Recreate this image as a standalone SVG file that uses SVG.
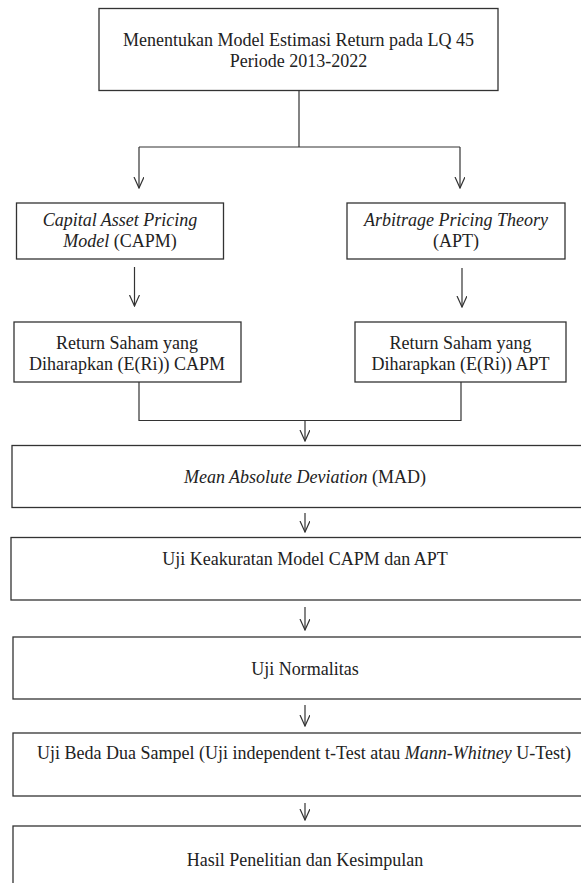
<svg xmlns="http://www.w3.org/2000/svg" width="581" height="883" viewBox="0 0 581 883">
<style>
.box{fill:#fff;stroke:#333;stroke-width:1.3}
.t{font-family:'Liberation Serif','Times New Roman',serif;font-size:18px;fill:#222;text-anchor:middle}
.i{font-style:italic}
.c{fill:none;stroke:#333;stroke-width:1.2}
</style>
<defs>
<marker id="ah" viewBox="0 0 12 12" refX="11" refY="5" markerWidth="12" markerHeight="12" markerUnits="userSpaceOnUse" orient="auto">
<path d="M0,0 L11,5 L0,10" fill="none" stroke="#333" stroke-width="1.2"/>
</marker>
</defs>
<rect width="581" height="883" fill="#fff"/>
<g id="connectors">
<path class="c" d="M299,90.5 V147 M139,147 H460"/>
<path class="c" d="M139,147 V188" marker-end="url(#ah)"/>
<path class="c" d="M460,147 V188" marker-end="url(#ah)"/>
<path class="c" d="M134.5,267 V306" marker-end="url(#ah)"/>
<path class="c" d="M462,268 V307" marker-end="url(#ah)"/>
<path class="c" d="M139,382 V420.5 H461 V382"/>
<path class="c" d="M305,420.5 V441" marker-end="url(#ah)"/>
<path class="c" d="M305,513 V532" marker-end="url(#ah)"/>
<path class="c" d="M305,607 V630" marker-end="url(#ah)"/>
<path class="c" d="M305,705 V726" marker-end="url(#ah)"/>
<path class="c" d="M305,803 V820" marker-end="url(#ah)"/>
</g>
<g id="n-start">
<rect class="box" x="99" y="8.5" width="399" height="82"/>
<text class="t" x="298.5" y="46">Menentukan Model Estimasi Return pada LQ 45</text>
<text class="t" x="298.5" y="67">Periode 2013-2022</text>
</g>
<g id="n-capm">
<rect class="box" x="16.5" y="203" width="207" height="56"/>
<text class="t" x="120" y="226"><tspan class="i">Capital Asset Pricing</tspan></text>
<text class="t" x="120" y="247"><tspan class="i">Model</tspan> (CAPM)</text>
</g>
<g id="n-apt">
<rect class="box" x="347" y="203" width="218" height="56"/>
<text class="t" x="456" y="226"><tspan class="i">Arbitrage Pricing Theory</tspan></text>
<text class="t" x="456" y="247">(APT)</text>
</g>
<g id="n-ret-capm">
<rect class="box" x="14" y="322" width="227" height="60"/>
<text class="t" x="127" y="349">Return Saham yang</text>
<text class="t" x="127" y="370">Diharapkan (E(Ri)) CAPM</text>
</g>
<g id="n-ret-apt">
<rect class="box" x="355" y="322" width="211" height="60"/>
<text class="t" x="460.5" y="349">Return Saham yang</text>
<text class="t" x="460.5" y="370">Diharapkan (E(Ri)) APT</text>
</g>
<g id="n-mad">
<rect class="box" x="12" y="445.5" width="590" height="62"/>
<text class="t" x="305" y="483"><tspan class="i">Mean Absolute Deviation</tspan> (MAD)</text>
</g>
<g id="n-akurasi">
<rect class="box" x="11" y="537.5" width="590" height="62.5"/>
<text class="t" x="305" y="565">Uji Keakuratan Model CAPM dan APT</text>
</g>
<g id="n-normal">
<rect class="box" x="13" y="637" width="590" height="62"/>
<text class="t" x="305" y="675">Uji Normalitas</text>
</g>
<g id="n-beda">
<rect class="box" x="13" y="733" width="590" height="63"/>
<text class="t" x="304" y="759">Uji Beda Dua Sampel (Uji independent t-Test atau <tspan class="i">Mann-Whitney</tspan> U-Test)</text>
</g>
<g id="n-hasil">
<rect class="box" x="13" y="826" width="590" height="80"/>
<text class="t" x="305" y="866">Hasil Penelitian dan Kesimpulan</text>
</g>
</svg>
